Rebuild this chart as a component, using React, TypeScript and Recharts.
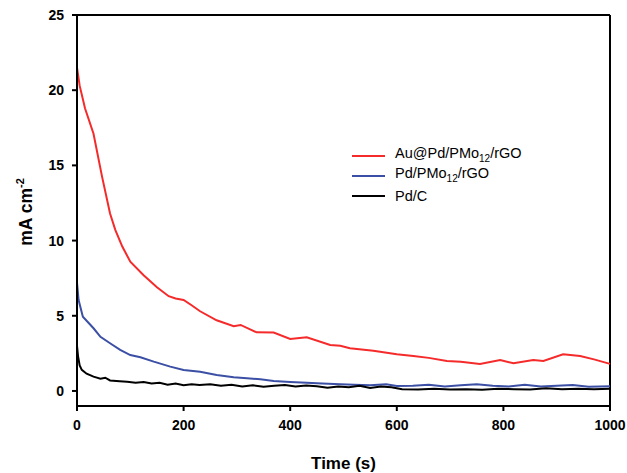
import { LineChart, Line, XAxis, YAxis, Legend, ReferenceLine } from "recharts";

// time (s) / current density (mA cm-2)
const auTime = [0, 5, 15, 31, 47, 62, 72, 85, 100, 125, 150, 172, 185, 200, 215, 231, 262, 294, 307, 337, 369, 400, 431, 475, 494, 512, 556, 600, 631, 660, 694, 720, 756, 794, 819, 856, 875, 912, 944, 970, 1000];
const auValue = [21.5, 20.3, 18.8, 17.1, 14.25, 11.8, 10.7, 9.6, 8.6, 7.7, 6.9, 6.3, 6.15, 6.05, 5.7, 5.3, 4.7, 4.3, 4.39, 3.9, 3.88, 3.46, 3.57, 3.06, 3.01, 2.84, 2.68, 2.44, 2.33, 2.2, 2.0, 1.95, 1.8, 2.06, 1.84, 2.06, 2.0, 2.44, 2.33, 2.1, 1.8];

const pdTime = [0, 3, 11, 31, 44, 62, 81, 100, 119, 144, 175, 200, 231, 262, 294, 319, 344, 369, 400, 431, 460, 494, 520, 550, 580, 600, 630, 660, 690, 720, 750, 780, 810, 840, 870, 900, 930, 960, 1000];
const pdValue = [7.2, 6.05, 4.94, 4.17, 3.6, 3.17, 2.73, 2.39, 2.24, 1.95, 1.62, 1.4, 1.28, 1.06, 0.91, 0.85, 0.78, 0.66, 0.6, 0.55, 0.5, 0.45, 0.42, 0.38, 0.45, 0.33, 0.35, 0.42, 0.3, 0.38, 0.45, 0.35, 0.3, 0.42, 0.3, 0.35, 0.4, 0.28, 0.32];

const pdcTime = [0, 2, 5, 9, 18, 31, 44, 53, 62, 80, 94, 110, 125, 140, 155, 170, 185, 200, 215, 230, 250, 270, 290, 310, 330, 350, 370, 390, 410, 430, 450, 470, 490, 510, 530, 550, 570, 590, 610, 640, 670, 700, 730, 760, 790, 820, 850, 880, 910, 940, 970, 1000];
const pdcValue = [3.0, 2.3, 1.7, 1.4, 1.15, 0.95, 0.82, 0.88, 0.7, 0.65, 0.62, 0.55, 0.6, 0.5, 0.55, 0.42, 0.5, 0.38, 0.45, 0.4, 0.45, 0.35, 0.42, 0.3, 0.38, 0.28, 0.35, 0.4, 0.3, 0.36, 0.32, 0.22, 0.3, 0.25, 0.35, 0.2, 0.3, 0.25, 0.12, 0.1, 0.15, 0.1, 0.12, 0.08, 0.15, 0.12, 0.1, 0.18, 0.12, 0.15, 0.12, 0.15];

const xTicks = [0, 200, 400, 600, 800, 1000];
const yTicks = [0, 5, 10, 15, 20, 25];

const zip = (t: number[], v: number[]) => t.map((x, i) => ({ t: x, v: v[i] }));

const FONT = "Arial, 'Liberation Sans', sans-serif";
const TICK = { fill: "#000", fontSize: 14, fontWeight: 700, fontFamily: FONT };

const legendItems = [
  { color: "#f52a2a", label: <>Au@Pd/PMo<sub style={{ fontSize: 10 }}>12</sub>/rGO</> },
  { color: "#3b4fa5", label: <>Pd/PMo<sub style={{ fontSize: 10 }}>12</sub>/rGO</> },
  { color: "#000", label: <>Pd/C</> },
];

function LegendBox() {
  return (
    <div style={{ fontFamily: FONT, fontSize: 14.5, color: "#000" }}>
      {legendItems.map((it, i) => (
        <div key={i} style={{ display: "flex", alignItems: "center", height: 20 }}>
          <span style={{ display: "inline-block", width: 33, height: 2, background: it.color, marginRight: 10 }} />
          <span style={{ lineHeight: "14px" }}>{it.label}</span>
        </div>
      ))}
    </div>
  );
}

function YLabel() {
  return (
    <text transform="translate(32,212) rotate(-90)" textAnchor="middle" fontFamily={FONT} fontSize={17.5} fontWeight={700} fill="#000">
      mA cm<tspan dy={-8} fontSize={11}>-2</tspan>
    </text>
  );
}

export default function App() {
  return (
    <div style={{ position: "absolute", left: 0, top: 0, background: "#fff" }}>
      <LineChart width={627} height={473} margin={{ top: 15, right: 17, left: 0, bottom: 0 }}>
        <XAxis
          dataKey="t"
          type="number"
          domain={[0, 1000]}
          ticks={xTicks}
          allowDuplicatedCategory={false}
          height={67}
          stroke="#000"
          strokeWidth={2}
          tickSize={5}
          tickMargin={9}
          tick={TICK}
          label={{ value: "Time (s)", position: "insideBottom", offset: 4, style: { ...TICK, fontSize: 17 } }}
        />
        <YAxis
          type="number"
          domain={[-1, 25]}
          ticks={yTicks}
          width={77}
          stroke="#000"
          strokeWidth={2}
          tickSize={5}
          tickMargin={8}
          tick={TICK}
          label={<YLabel />}
        />
        <ReferenceLine y={25} stroke="#000" strokeWidth={2} />
        <ReferenceLine x={1000} stroke="#000" strokeWidth={2} />
        <Legend
          layout="vertical"
          verticalAlign="middle"
          align="center"
          wrapperStyle={{ left: 352, top: 146, width: 220 }}
          content={() => <LegendBox />}
        />
        <Line data={zip(auTime, auValue)} dataKey="v" name="Au@Pd/PMo12/rGO" stroke="#f52a2a" strokeWidth={2} dot={false} isAnimationActive={false} />
        <Line data={zip(pdTime, pdValue)} dataKey="v" name="Pd/PMo12/rGO" stroke="#3b4fa5" strokeWidth={2} dot={false} isAnimationActive={false} />
        <Line data={zip(pdcTime, pdcValue)} dataKey="v" name="Pd/C" stroke="#000" strokeWidth={2} dot={false} isAnimationActive={false} />
      </LineChart>
    </div>
  );
}
